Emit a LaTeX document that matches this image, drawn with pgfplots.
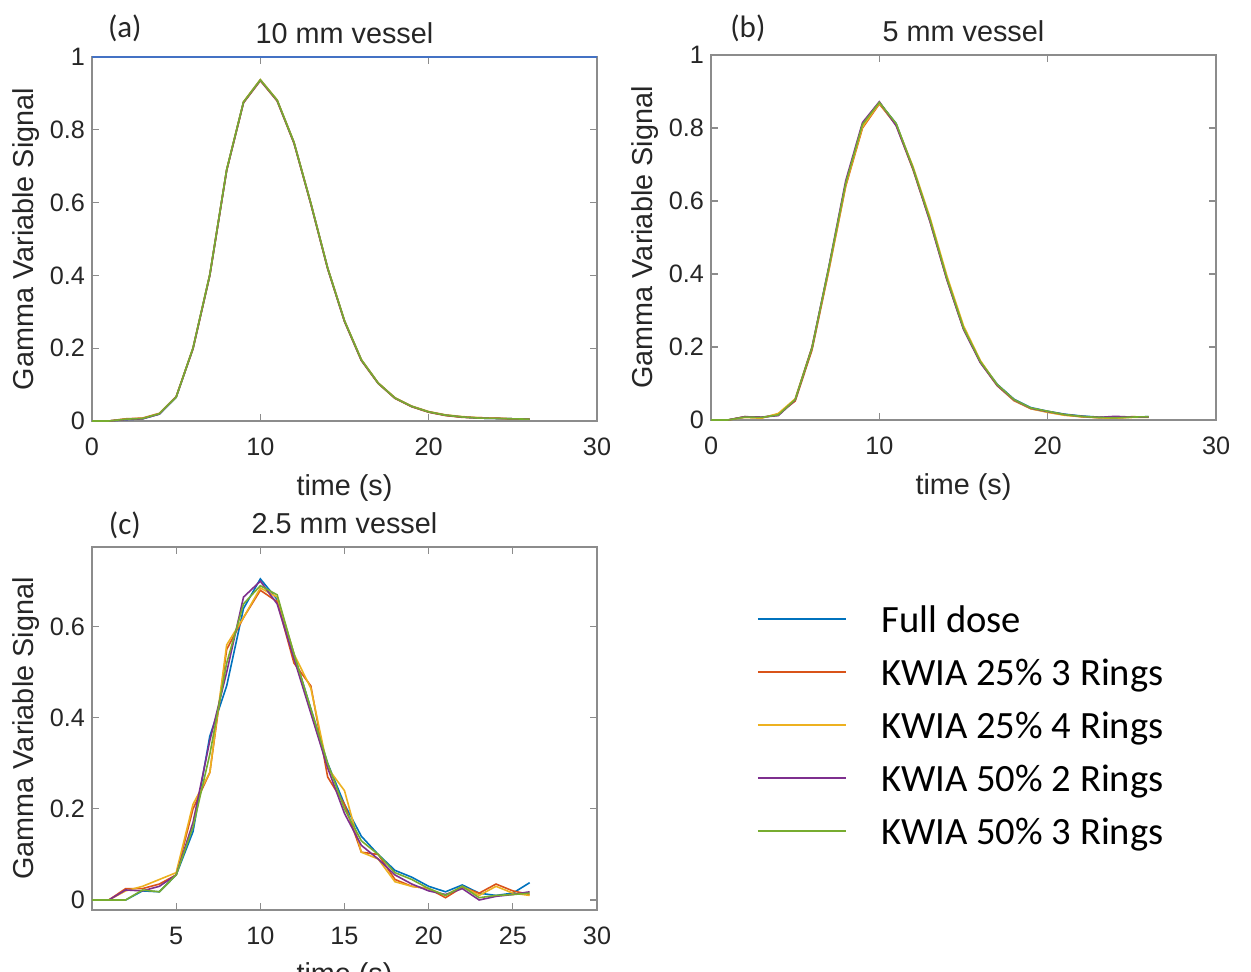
\documentclass[border=0pt]{standalone}
\usepackage{pgfplots}
\pgfplotsset{compat=1.18}
\usepackage{pgfplotstable}
\usepackage{fontspec}
\setmainfont{Liberation Sans}
\newfontfamily\calib{Carlito}

\definecolor{mBlue}{rgb}{0,0.447,0.741}
\definecolor{mOrange}{rgb}{0.85,0.325,0.098}
\definecolor{mYellow}{rgb}{0.929,0.694,0.125}
\definecolor{mPurple}{rgb}{0.494,0.184,0.556}
\definecolor{mGreen}{rgb}{0.466,0.674,0.188}
\definecolor{topblue}{HTML}{4472C4}
\definecolor{boxgray}{HTML}{8C8C8C}
\definecolor{txtgray}{HTML}{262626}

% 10 mm vessel
\pgfplotstableread{
t fd k253 k254 k502 k503
0 0 0 0 0 0
1 0 0 0 0 0
2 0.004 0.006 0.005 0.004 0.005
3 0.006 0.008 0.007 0.006 0.007
4 0.019 0.021 0.020 0.019 0.020
5 0.065 0.067 0.066 0.066 0.066
6 0.200 0.198 0.201 0.199 0.200
7 0.402 0.400 0.403 0.401 0.402
8 0.690 0.688 0.691 0.689 0.690
9 0.876 0.874 0.877 0.875 0.876
10 0.937 0.935 0.938 0.936 0.937
11 0.881 0.879 0.882 0.880 0.881
12 0.765 0.763 0.766 0.764 0.765
13 0.598 0.596 0.599 0.597 0.598
14 0.420 0.418 0.421 0.419 0.420
15 0.275 0.273 0.276 0.274 0.275
16 0.168 0.166 0.169 0.167 0.168
17 0.104 0.103 0.105 0.104 0.104
18 0.063 0.062 0.064 0.063 0.063
19 0.040 0.039 0.041 0.040 0.040
20 0.025 0.024 0.026 0.025 0.025
21 0.016 0.015 0.017 0.016 0.016
22 0.011 0.010 0.012 0.011 0.011
23 0.008 0.009 0.009 0.008 0.008
24 0.007 0.008 0.008 0.007 0.007
25 0.006 0.005 0.006 0.006 0.006
26 0.005 0.005 0.005 0.005 0.005
}\tenmm

% 5 mm vessel
\pgfplotstableread{
t fd k253 k254 k502 k503
0 0 0 0 0 0
1 0 0 0 0 0
2 0.008 0.009 0.007 0.009 0.008
3 0.007 0.006 0.005 0.008 0.007
4 0.014 0.016 0.018 0.012 0.014
5 0.055 0.052 0.058 0.055 0.056
6 0.197 0.192 0.200 0.199 0.197
7 0.417 0.410 0.412 0.420 0.418
8 0.647 0.640 0.643 0.655 0.648
9 0.808 0.800 0.803 0.815 0.810
10 0.870 0.866 0.868 0.872 0.870
11 0.812 0.808 0.810 0.806 0.812
12 0.690 0.686 0.694 0.688 0.690
13 0.550 0.546 0.556 0.545 0.550
14 0.390 0.387 0.397 0.386 0.390
15 0.252 0.250 0.258 0.248 0.252
16 0.160 0.158 0.163 0.157 0.160
17 0.098 0.094 0.096 0.095 0.097
18 0.057 0.053 0.054 0.055 0.056
19 0.034 0.031 0.031 0.032 0.033
20 0.024 0.022 0.021 0.023 0.024
21 0.016 0.014 0.013 0.015 0.015
22 0.011 0.009 0.009 0.010 0.010
23 0.008 0.007 0.006 0.007 0.007
24 0.006 0.006 0.005 0.010 0.006
25 0.008 0.009 0.007 0.008 0.008
26 0.009 0.008 0.007 0.008 0.009
}\fivemm

% 2.5 mm vessel
\pgfplotstableread{
t fd k253 k254 k502 k503
0 0 0 0 0 0
1 0 0 0 0 0
2 0 0.025 0.020 0.022 0
3 0.020 0.025 0.030 0.020 0.022
4 0.018 0.035 0.045 0.030 0.018
5 0.055 0.055 0.060 0.055 0.055
6 0.150 0.200 0.210 0.170 0.160
7 0.360 0.280 0.280 0.350 0.320
8 0.470 0.550 0.560 0.500 0.520
9 0.640 0.620 0.620 0.665 0.650
10 0.705 0.680 0.685 0.700 0.690
11 0.660 0.655 0.665 0.650 0.670
12 0.540 0.520 0.540 0.530 0.540
13 0.420 0.470 0.465 0.410 0.420
14 0.300 0.270 0.290 0.290 0.300
15 0.210 0.210 0.240 0.190 0.200
16 0.140 0.105 0.105 0.120 0.130
17 0.100 0.100 0.090 0.090 0.100
18 0.065 0.045 0.040 0.055 0.060
19 0.050 0.030 0.030 0.035 0.045
20 0.030 0.025 0.025 0.020 0.025
21 0.018 0.005 0.010 0.012 0.010
22 0.033 0.028 0.030 0.025 0.030
23 0.015 0.015 0.010 0.000 0.005
24 0.010 0.035 0.030 0.008 0.010
25 0.015 0.020 0.015 0.012 0.012
26 0.038 0.012 0.010 0.018 0.015
}\twomm

\pgfplotsset{
  gvs/.style={
    scale only axis, width=252.5pt, anchor=south west, clip=false,
    xmin=0, xmax=30,
    axis line style={boxgray, line width=0.9pt},
    tick style={boxgray, line width=0.6pt},
    tick align=inside, major tick length=3.5pt,
    ticklabel style={font=\fontsize{12.6}{15}\selectfont, text=txtgray},
    xticklabel style={yshift=-5pt},
    /pgf/number format/assume math mode=true,
    label style={font=\fontsize{14.4}{17}\selectfont, text=txtgray},
    every axis title shift=0pt,
    title style={font=\fontsize{14.4}{17}\selectfont, text=txtgray,
      at={(axis description cs:0.5,1.066)}, anchor=center},
    xlabel={time (s)}, ylabel={Gamma Variable Signal},
    xlabel style={at={(axis description cs:0.5,-0.183)}, anchor=center},
    ylabel style={at={(axis description cs:-0.131,0.5)}, anchor=center},
    every axis plot/.append style={line width=0.8pt},
  },
}
\tikzset{plab/.style={font=\calib\fontsize{15.5}{18}\selectfont, text=txtgray}}

\begin{document}
\begin{tikzpicture}
% (a)
\begin{axis}[gvs, at={(46pt,275pt)}, height=182pt,
  ymin=0, ymax=1, ytick={0,0.2,0.4,0.6,0.8,1}, xtick={0,10,20,30},
  title={10 mm vessel}]
\addplot[mBlue] table[x=t,y=fd] {\tenmm};
\addplot[mOrange] table[x=t,y=k253] {\tenmm};
\addplot[mYellow] table[x=t,y=k254] {\tenmm};
\addplot[mPurple] table[x=t,y=k502] {\tenmm};
\addplot[mGreen] table[x=t,y=k503] {\tenmm};
\addplot[topblue, line width=1.2pt] coordinates {(0,1) (30,1)};
\node[plab] at (rel axis cs:0.065,1.08) {(a)};
\end{axis}
% (b)
\begin{axis}[gvs, at={(355.5pt,275.5pt)}, height=182.5pt,
  ymin=0, ymax=1, ytick={0,0.2,0.4,0.6,0.8,1}, xtick={0,10,20,30},
  title={5 mm vessel}]
\addplot[mBlue] table[x=t,y=fd] {\fivemm};
\addplot[mOrange] table[x=t,y=k253] {\fivemm};
\addplot[mYellow] table[x=t,y=k254] {\fivemm};
\addplot[mPurple] table[x=t,y=k502] {\fivemm};
\addplot[mGreen] table[x=t,y=k503] {\fivemm};
\node[plab] at (rel axis cs:0.073,1.074) {(b)};
\end{axis}
% (c)
\begin{axis}[gvs, at={(46pt,30.5pt)}, height=181.5pt,
  ymin=-0.022, ymax=0.775, ytick={0,0.2,0.4,0.6}, xtick={5,10,15,20,25,30},
  title={2.5 mm vessel},
  legend cell align=left,
  legend style={draw=none, fill=none, inner sep=0pt, outer sep=0pt,
    at={(axis description cs:1.3168,0.865)}, anchor=north west,
    font=\calib\fontsize{19.3}{23}\selectfont, text=black,
    row sep=0pt,
    nodes={inner sep=0pt, text height=18pt, text depth=8.5pt}},
  legend image code/.code={
    \draw[#1, line width=1pt] (0pt,2pt) -- (44pt,2pt);
    \path (61.5pt,2pt);
  }]
\addplot[mBlue] table[x=t,y=fd] {\twomm};
\addplot[mOrange] table[x=t,y=k253] {\twomm};
\addplot[mYellow] table[x=t,y=k254] {\twomm};
\addplot[mPurple] table[x=t,y=k502] {\twomm};
\addplot[mGreen] table[x=t,y=k503] {\twomm};
\legend{Full dose, KWIA 25\% 3 Rings, KWIA 25\% 4 Rings, KWIA 50\% 2 Rings, KWIA 50\% 3 Rings}
\node[plab] at (rel axis cs:0.065,1.06) {(c)};
\end{axis}
\pgfresetboundingbox
\useasboundingbox (0,0) rectangle (625.5pt,485.5pt);
\end{tikzpicture}
\end{document}
